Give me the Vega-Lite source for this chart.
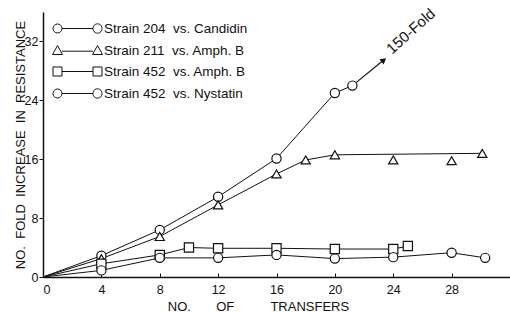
{
  "$schema": "https://vega.github.io/schema/vega-lite/v6.json",
  "width": 467,
  "height": 265,
  "autosize": "none",
  "padding": {"left": 43, "top": 12, "right": 0, "bottom": 35},
  "config": {
    "view": {"stroke": null},
    "font": "Liberation Sans",
    "axis": {
      "grid": false,
      "domainColor": "#111",
      "domainWidth": 1.5,
      "tickColor": "#111",
      "labelColor": "#111",
      "titleColor": "#111",
      "labelFont": "Liberation Sans",
      "titleFont": "Liberation Sans",
      "labelFontSize": 12.5,
      "titleFontSize": 13,
      "titleFontWeight": "normal"
    }
  },
  "datasets": {
    "series": [
      {"series": "Strain 204\u00a0\u00a0vs. Candidin", "transfers": 0, "fold": 0, "on": true, "pt": false},
      {"series": "Strain 204\u00a0\u00a0vs. Candidin", "transfers": 4, "fold": 2.9, "on": true, "pt": true},
      {"series": "Strain 204\u00a0\u00a0vs. Candidin", "transfers": 8, "fold": 6.4, "on": true, "pt": true},
      {"series": "Strain 204\u00a0\u00a0vs. Candidin", "transfers": 12, "fold": 10.9, "on": true, "pt": true},
      {"series": "Strain 204\u00a0\u00a0vs. Candidin", "transfers": 16, "fold": 16.1, "on": true, "pt": true},
      {"series": "Strain 204\u00a0\u00a0vs. Candidin", "transfers": 20, "fold": 25.0, "on": true, "pt": true},
      {"series": "Strain 204\u00a0\u00a0vs. Candidin", "transfers": 21.2, "fold": 26.0, "on": true, "pt": true},
      {"series": "Strain 211\u00a0\u00a0vs. Amph. B", "transfers": 0, "fold": 0, "on": true, "pt": false},
      {"series": "Strain 211\u00a0\u00a0vs. Amph. B", "transfers": 4, "fold": 2.5, "on": true, "pt": true},
      {"series": "Strain 211\u00a0\u00a0vs. Amph. B", "transfers": 8, "fold": 5.5, "on": true, "pt": true},
      {"series": "Strain 211\u00a0\u00a0vs. Amph. B", "transfers": 12, "fold": 9.8, "on": true, "pt": true},
      {"series": "Strain 211\u00a0\u00a0vs. Amph. B", "transfers": 16, "fold": 14.0, "on": true, "pt": true},
      {"series": "Strain 211\u00a0\u00a0vs. Amph. B", "transfers": 18, "fold": 15.9, "on": true, "pt": true},
      {"series": "Strain 211\u00a0\u00a0vs. Amph. B", "transfers": 20, "fold": 16.6, "on": true, "pt": true},
      {"series": "Strain 211\u00a0\u00a0vs. Amph. B", "transfers": 24, "fold": 15.9, "on": false, "pt": true},
      {"series": "Strain 211\u00a0\u00a0vs. Amph. B", "transfers": 28, "fold": 15.8, "on": false, "pt": true},
      {"series": "Strain 211\u00a0\u00a0vs. Amph. B", "transfers": 30.1, "fold": 16.8, "on": true, "pt": true},
      {"series": "Strain 452\u00a0\u00a0vs. Amph. B", "transfers": 0, "fold": 0, "on": true, "pt": false},
      {"series": "Strain 452\u00a0\u00a0vs. Amph. B", "transfers": 4, "fold": 1.8, "on": true, "pt": true},
      {"series": "Strain 452\u00a0\u00a0vs. Amph. B", "transfers": 8, "fold": 3.0, "on": true, "pt": true},
      {"series": "Strain 452\u00a0\u00a0vs. Amph. B", "transfers": 10, "fold": 4.0, "on": true, "pt": true},
      {"series": "Strain 452\u00a0\u00a0vs. Amph. B", "transfers": 12, "fold": 3.9, "on": true, "pt": true},
      {"series": "Strain 452\u00a0\u00a0vs. Amph. B", "transfers": 16, "fold": 3.9, "on": true, "pt": true},
      {"series": "Strain 452\u00a0\u00a0vs. Amph. B", "transfers": 20, "fold": 3.8, "on": true, "pt": true},
      {"series": "Strain 452\u00a0\u00a0vs. Amph. B", "transfers": 24, "fold": 3.8, "on": true, "pt": true},
      {"series": "Strain 452\u00a0\u00a0vs. Amph. B", "transfers": 25, "fold": 4.2, "on": true, "pt": true},
      {"series": "Strain 452\u00a0\u00a0vs. Nystatin", "transfers": 0, "fold": 0, "on": true, "pt": false},
      {"series": "Strain 452\u00a0\u00a0vs. Nystatin", "transfers": 4, "fold": 0.9, "on": true, "pt": true},
      {"series": "Strain 452\u00a0\u00a0vs. Nystatin", "transfers": 8, "fold": 2.6, "on": true, "pt": true},
      {"series": "Strain 452\u00a0\u00a0vs. Nystatin", "transfers": 12, "fold": 2.6, "on": true, "pt": true},
      {"series": "Strain 452\u00a0\u00a0vs. Nystatin", "transfers": 16, "fold": 3.0, "on": true, "pt": true},
      {"series": "Strain 452\u00a0\u00a0vs. Nystatin", "transfers": 20, "fold": 2.5, "on": true, "pt": true},
      {"series": "Strain 452\u00a0\u00a0vs. Nystatin", "transfers": 24, "fold": 2.7, "on": true, "pt": true},
      {"series": "Strain 452\u00a0\u00a0vs. Nystatin", "transfers": 28, "fold": 3.3, "on": true, "pt": true},
      {"series": "Strain 452\u00a0\u00a0vs. Nystatin", "transfers": 30.3, "fold": 2.6, "on": true, "pt": true}
    ],
    "arrow": [
      {"transfers": 21.2, "fold": 26.0, "head": false},
      {"transfers": 23.3, "fold": 29.4, "head": true}
    ],
    "note": [
      {"transfers": 25.2, "fold": 33.4, "label": "150-Fold"}
    ]
  },
  "encoding": {
    "x": {
      "field": "transfers",
      "type": "quantitative",
      "scale": {"domain": [0, 32], "nice": false},
      "axis": {
        "values": [0, 4, 8, 12, 16, 20, 24, 28],
        "title": "NO.\u00a0\u00a0\u00a0\u00a0\u00a0\u00a0\u00a0OF\u00a0\u00a0\u00a0\u00a0\u00a0\u00a0\u00a0\u00a0\u00a0\u00a0TRANSFERS",
        "titleX": 215,
        "titleY": 33,
        "titleAlign": "center",
        "titleBaseline": "alphabetic",
        "tickSize": -4,
        "labelPadding": 10
      }
    },
    "y": {
      "field": "fold",
      "type": "quantitative",
      "scale": {"domain": [0, 36], "nice": false},
      "axis": {
        "values": [0, 8, 16, 24, 32],
        "title": "NO.\u00a0\u00a0FOLD\u00a0\u00a0INCREASE\u00a0\u00a0IN\u00a0\u00a0RESISTANCE",
        "tickSize": 4,
        "labelPadding": 1,
        "titleX": -23,
        "titleBaseline": "middle"
      }
    }
  },
  "layer": [
    {
      "data": {"name": "series"},
      "transform": [{"filter": "datum.on"}],
      "mark": {"type": "line", "color": "#111", "strokeWidth": 1},
      "encoding": {"detail": {"field": "series"}}
    },
    {
      "data": {"name": "arrow"},
      "mark": {"type": "line", "color": "#111", "strokeWidth": 1.2},
      "encoding": {}
    },
    {
      "data": {"name": "arrow"},
      "transform": [{"filter": "datum.head"}],
      "mark": {"type": "point", "shape": "triangle", "filled": true, "color": "#111", "angle": 51, "size": 45, "opacity": 1}
    },
    {
      "data": {"name": "series"},
      "transform": [{"filter": "datum.pt"}],
      "mark": {"type": "point", "filled": false, "fill": "white", "fillOpacity": 1, "stroke": "#111", "strokeWidth": 1.2, "size": 85, "opacity": 1},
      "encoding": {
        "shape": {
          "field": "series",
          "scale": {
            "domain": ["Strain 204\u00a0\u00a0vs. Candidin", "Strain 211\u00a0\u00a0vs. Amph. B", "Strain 452\u00a0\u00a0vs. Amph. B", "Strain 452\u00a0\u00a0vs. Nystatin"],
            "range": ["circle", "triangle-up", "square", "circle"]
          },
          "legend": null
        }
      }
    },
    {
      "data": {"name": "series"},
      "transform": [{"filter": "datum.pt"}],
      "mark": {"type": "point", "filled": false, "stroke": "#111", "opacity": 0},
      "encoding": {
        "shape": {
          "field": "series",
          "scale": {
            "domain": ["Strain 204\u00a0\u00a0vs. Candidin", "Strain 211\u00a0\u00a0vs. Amph. B", "Strain 452\u00a0\u00a0vs. Amph. B", "Strain 452\u00a0\u00a0vs. Nystatin"],
            "range": [
              "M -0.929 0 A 0.643 0.643 0 1 0 0.357 0 A 0.643 0.643 0 1 0 -0.929 0 Z M 0.357 0 L 4.786 0 M 4.786 0 A 0.643 0.643 0 1 0 6.071 0 A 0.643 0.643 0 1 0 4.786 0 Z",
              "M -0.286 -0.714 L 0.429 0.571 L -1 0.571 Z M 0.35 0.1 L 4.79 0.1 M 5.429 -0.714 L 6.143 0.571 L 4.714 0.571 Z",
              "M -0.929 -0.643 L 0.357 -0.643 L 0.357 0.643 L -0.929 0.643 Z M 0.357 0 L 4.786 0 M 4.786 -0.643 L 6.071 -0.643 L 6.071 0.643 L 4.786 0.643 Z",
              "M -0.929 0 A 0.643 0.643 0 1 0 0.357 0 A 0.643 0.643 0 1 0 -0.929 0 Z M 0.357 0 L 4.786 0 M 4.786 0 A 0.643 0.643 0 1 0 6.071 0 A 0.643 0.643 0 1 0 4.786 0 Z"
            ]
          },
          "legend": {
            "title": null,
            "orient": "top-left",
            "offset": 9,
            "padding": 0,
            "symbolSize": 196,
            "symbolStrokeWidth": 1,
            "symbolStrokeColor": "#111",
            "symbolFillColor": "white",
            "symbolOpacity": 1,
            "labelFont": "Liberation Sans",
            "labelFontSize": 13.5,
            "labelColor": "#111",
            "labelOffset": 37,
            "rowPadding": 7,
            "labelLimit": 300,
            "encode": {"symbols": {"update": {"opacity": {"value": 1}}}}
          }
        }
      }
    },
    {
      "data": {"name": "note"},
      "mark": {"type": "text", "angle": -42, "fontSize": 15, "font": "Liberation Sans", "color": "#111"},
      "encoding": {"text": {"field": "label"}}
    }
  ],
  "resolve": {"scale": {"shape": "independent"}, "legend": {"shape": "independent"}}
}
